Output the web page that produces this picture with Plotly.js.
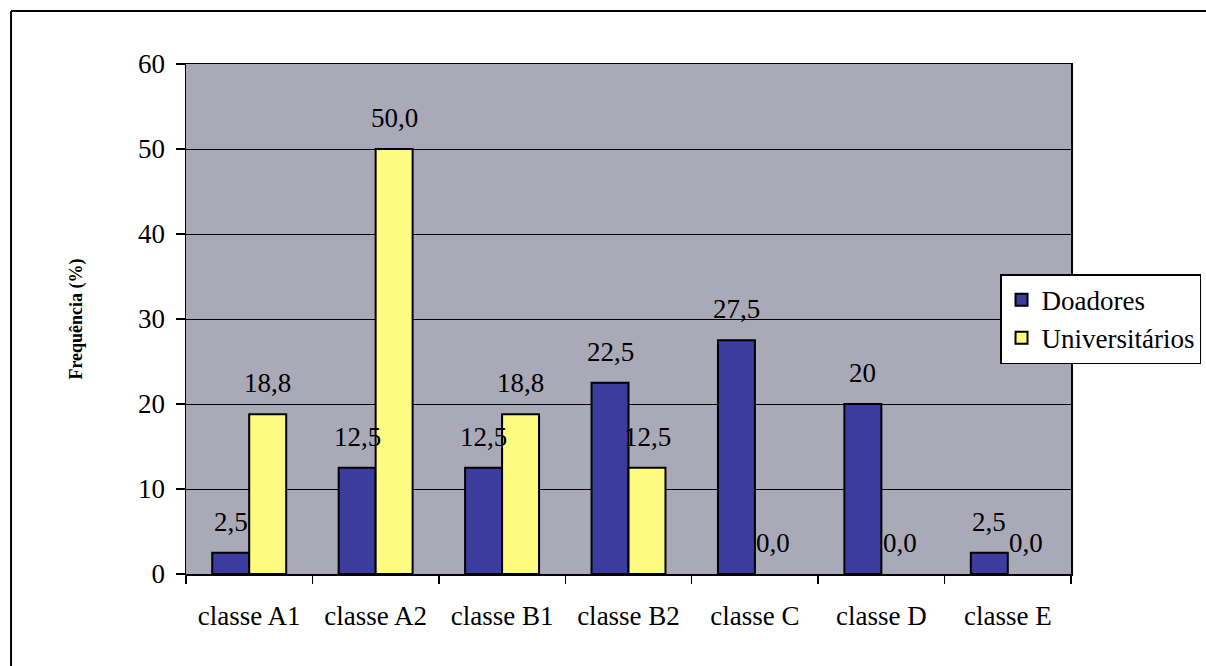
<!DOCTYPE html>
<html>
<head>
<meta charset="utf-8">
<script src="https://cdn.plot.ly/plotly-3.0.1.min.js"></script>
<style>
  html, body { margin: 0; padding: 0; background: #ffffff; }
  #chart { width: 1206px; height: 666px; }
</style>
</head>
<body>
<div id="chart"></div>
<script>
// Socio-economic class distribution (%) of the two groups
const categories = ['classe A1', 'classe A2', 'classe B1', 'classe B2', 'classe C', 'classe D', 'classe E'];
const doadores = [2.5, 12.5, 12.5, 22.5, 27.5, 20, 2.5];
const universitarios = [18.8, 50.0, 18.8, 12.5, 0.0, 0.0, 0.0];
const seriesNames = ['Doadores', 'Universitários'];
const yTicks = [0, 10, 20, 30, 40, 50, 60];

const serif = '"Liberation Serif", "Times New Roman", Times, serif';
const ink = '#000000';
// empty bars get no outline
const outlineFor = vals => vals.map(v => (v > 0 ? 2 : 0));

const traces = [
  {
    type: 'bar', name: seriesNames[0], x: categories, y: doadores,
    marker: { color: '#3b3c9e', line: { color: ink, width: outlineFor(doadores) } }
  },
  {
    type: 'bar', name: seriesNames[1], x: categories, y: universitarios,
    marker: { color: '#fdfb80', line: { color: ink, width: outlineFor(universitarios) } }
  }
];

// value labels: Doadores as written (e.g. "20"), Universitários with one decimal
const fmtD = v => String(v).replace('.', ',');
const fmtU = v => v.toFixed(1).replace('.', ',');
const annotations = [];
categories.forEach((c, i) => {
  annotations.push({
    x: c, y: doadores[i], xref: 'x', yref: 'y', text: fmtD(doadores[i]),
    showarrow: false, yanchor: 'bottom', xshift: -18.5, yshift: 14,
    font: { family: serif, size: 27, color: ink }
  });
  annotations.push({
    x: c, y: universitarios[i], xref: 'x', yref: 'y', text: fmtU(universitarios[i]),
    showarrow: false, yanchor: 'bottom', xshift: 18.5, yshift: 14,
    font: { family: serif, size: 27, color: ink }
  });
});

const layout = {
  width: 1206, height: 666,
  margin: { l: 186, r: 135, t: 64, b: 92, pad: 0, autoexpand: false },
  paper_bgcolor: '#ffffff',
  plot_bgcolor: '#aaa9b7',
  font: { family: serif, size: 27, color: ink },
  barmode: 'group',
  bargap: 0.415,
  bargroupgap: 0,
  showlegend: true,
  legend: {
    x: 0.9198, y: 0.588, xanchor: 'left', yanchor: 'top',
    bgcolor: '#ffffff', bordercolor: ink, borderwidth: 1.5,
    font: { family: serif, size: 27, color: ink },
    itemclick: false, itemdoubleclick: false
  },
  xaxis: {
    type: 'category',
    showline: true, linecolor: ink, linewidth: 1.5, mirror: true,
    ticks: 'outside', tickson: 'boundaries', ticklen: 8, tickwidth: 1.5, tickcolor: ink,
    ticklabelstandoff: 17,
    showgrid: false, zeroline: false,
    tickfont: { family: serif, size: 27, color: ink }
  },
  yaxis: {
    range: [0, 60], tickvals: yTicks, ticktext: yTicks.map(String),
    showline: true, linecolor: ink, linewidth: 1.5, mirror: true,
    ticks: 'outside', ticklen: 9, tickwidth: 1.5, tickcolor: ink,
    ticklabelstandoff: 5,
    showgrid: true, gridcolor: ink, gridwidth: 1,
    zeroline: false,
    tickfont: { family: serif, size: 27, color: ink },
    title: {
      text: '<b>Frequência (%)</b>', standoff: 51,
      font: { family: serif, size: 18, color: ink }
    }
  },
  annotations: annotations,
  shapes: [
    // page frame: left and top rules
    { type: 'line', xref: 'paper', yref: 'paper', x0: -0.1977, x1: -0.1977, y0: -0.2, y1: 1.104,
      line: { color: ink, width: 2 } },
    { type: 'line', xref: 'paper', yref: 'paper', x0: -0.1977, x1: 1.16, y0: 1.104, y1: 1.104,
      line: { color: ink, width: 2 } }
  ]
};

Plotly.newPlot('chart', traces, layout, { displayModeBar: false, staticPlot: true });
</script>
</body>
</html>
